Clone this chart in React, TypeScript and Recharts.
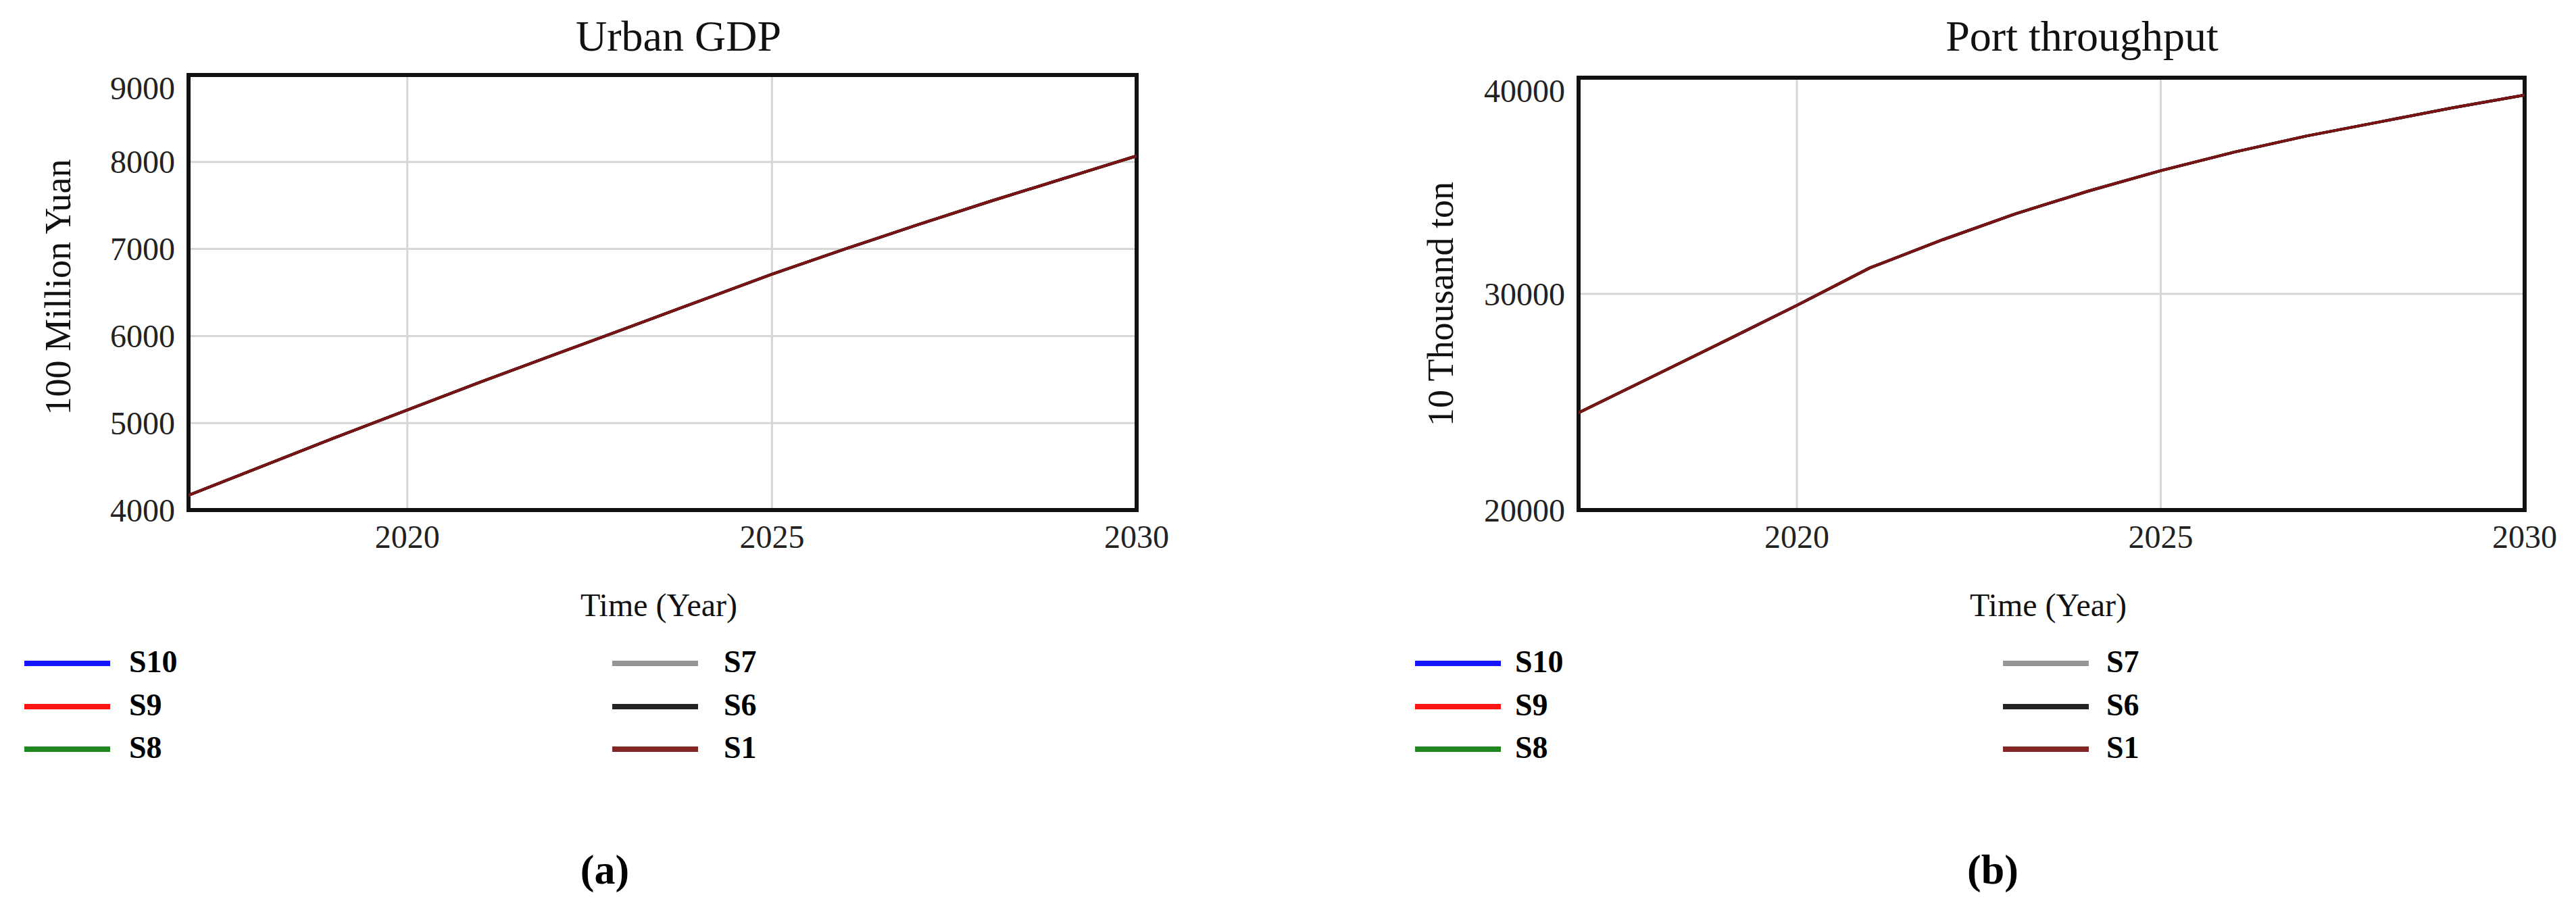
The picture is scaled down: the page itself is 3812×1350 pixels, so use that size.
import React from 'react';
import {
  LineChart,
  Line,
  XAxis,
  YAxis,
  CartesianGrid,
  ReferenceArea,
} from 'recharts';

// Simulation output, 2017-2030. All scenarios coincide, S1 is drawn on top.
const years = [2017, 2018, 2019, 2020, 2021, 2022, 2023, 2024, 2025, 2026, 2027, 2028, 2029, 2030];
const gdpValues = [4170, 4500, 4830, 5150, 5470, 5780, 6090, 6400, 6710, 7000, 7280, 7550, 7810, 8070];
const portValues = [24500, 26150, 27800, 29470, 31200, 32500, 33700, 34750, 35700, 36550, 37300, 37950, 38600, 39200];

const yearTicks = [2020, 2025, 2030];
const gdpTicks = [4000, 5000, 6000, 7000, 8000, 9000];
const portTicks = [20000, 30000, 40000];

// legend reads column by column: S10 S9 S8 | S7 S6 S1
const scenarios = ['S10', 'S9', 'S8', 'S7', 'S6', 'S1'];
// draw order, last one ends up on top
const drawOrder = ['S10', 'S9', 'S8', 'S7', 'S6', 'S1'];

const SERIES_COLORS: Record<string, string> = {
  S10: '#0000ff',
  S9: '#ff0000',
  S8: '#0b7d0b',
  S7: '#8c8c8c',
  S6: '#111111',
  S1: '#7a1414',
};

const SERIF = '"Liberation Serif", "Times New Roman", serif';
const GRID = '#d6d6d6';

const gdpData = years.map((year, i) => ({ year, value: gdpValues[i] }));
const portData = years.map((year, i) => ({ year, value: portValues[i] }));

const YTick = ({ x, y, payload, top }: any) => {
  const shift = payload.value === top ? 19 : 0;
  return (
    <text
      x={x}
      y={y + shift}
      textAnchor="end"
      dominantBaseline="central"
      fontFamily={SERIF}
      fontSize={48}
      fill="#222"
    >
      {payload.value}
    </text>
  );
};

interface PanelProps {
  left: number;
  width: number;
  data: { year: number; value: number }[];
  yTicks: number[];
  yAxisWidth: number;
  marginRight: number;
  marginTop: number;
  title: string;
  titleX: number;
  yLabel: string;
  yLabelX: number;
  yLabelY: number;
  timeX: number;
  lineX: number[];
  textX: number[];
  caption: string;
  captionX: number;
}

function Panel(p: PanelProps) {
  const yMin = p.yTicks[0];
  const yMax = p.yTicks[p.yTicks.length - 1];
  const rows = [982, 1046, 1109];
  return (
    <>
      <div style={{ position: 'absolute', left: p.left, top: 0 }}>
        <LineChart
          width={p.width}
          height={900}
          data={p.data}
          margin={{ top: p.marginTop, right: p.marginRight, left: 0, bottom: 85 }}
        >
          <CartesianGrid stroke={GRID} strokeWidth={3} />
          <XAxis
            dataKey="year"
            type="number"
            domain={[2017, 2030]}
            ticks={yearTicks}
            allowDataOverflow
            axisLine={false}
            tickLine={false}
            tickSize={0}
            tickMargin={22}
            height={60}
            tick={{ fontFamily: SERIF, fontSize: 48, fill: '#222' }}
          />
          <YAxis
            type="number"
            domain={[yMin, yMax]}
            ticks={p.yTicks}
            allowDataOverflow
            axisLine={false}
            tickLine={false}
            tickSize={0}
            tickMargin={20}
            width={p.yAxisWidth}
            tick={<YTick top={yMax} />}
          />
          {drawOrder.map((s) => (
            <Line
              key={s}
              dataKey="value"
              name={s}
              type="linear"
              stroke={SERIES_COLORS[s]}
              strokeWidth={4}
              dot={false}
              isAnimationActive={false}
            />
          ))}
          <ReferenceArea
            x1={2017}
            x2={2030}
            y1={yMin}
            y2={yMax}
            fill="none"
            fillOpacity={0}
            stroke="#111"
            strokeWidth={6}
          />
        </LineChart>
      </div>

      <div
        style={{
          position: 'absolute',
          left: p.titleX,
          top: 54,
          transform: 'translate(-50%, -50%)',
          fontFamily: SERIF,
          fontSize: 64,
          whiteSpace: 'nowrap',
          color: '#111',
        }}
      >
        {p.title}
      </div>

      <div
        style={{
          position: 'absolute',
          left: p.yLabelX,
          top: p.yLabelY,
          transform: 'translate(-50%, -50%) rotate(-90deg)',
          fontFamily: SERIF,
          fontSize: 54,
          whiteSpace: 'nowrap',
          color: '#111',
        }}
      >
        {p.yLabel}
      </div>

      <div
        style={{
          position: 'absolute',
          left: p.timeX,
          top: 895,
          transform: 'translate(-50%, -50%)',
          fontFamily: SERIF,
          fontSize: 48,
          whiteSpace: 'nowrap',
          color: '#111',
        }}
      >
        Time (Year)
      </div>

      {scenarios.map((s, i) => {
        const col = Math.floor(i / 3);
        const rowY = rows[i % 3];
        return (
          <React.Fragment key={s}>
            <div
              style={{
                position: 'absolute',
                left: p.lineX[col],
                top: rowY - 4,
                width: 127,
                height: 8,
                background: SERIES_COLORS[s],
                opacity: 0.92,
              }}
            />
            <div
              style={{
                position: 'absolute',
                left: p.textX[col],
                top: rowY - 2,
                transform: 'translateY(-50%)',
                fontFamily: SERIF,
                fontWeight: 'bold',
                fontSize: 46,
                lineHeight: 1,
                color: '#000',
              }}
            >
              {s}
            </div>
          </React.Fragment>
        );
      })}

      <div
        style={{
          position: 'absolute',
          left: p.captionX,
          top: 1287,
          transform: 'translate(-50%, -50%)',
          fontFamily: SERIF,
          fontWeight: 'bold',
          fontSize: 62,
          color: '#000',
        }}
      >
        {p.caption}
      </div>
    </>
  );
}

export default function App() {
  return (
    <div
      style={{
        position: 'absolute',
        left: 0,
        top: 0,
        width: 3812,
        height: 1350,
        background: '#fff',
        overflow: 'hidden',
      }}
    >
      <Panel
        left={0}
        width={1800}
        data={gdpData}
        yTicks={gdpTicks}
        yAxisWidth={279}
        marginRight={118}
        marginTop={111}
        title="Urban GDP"
        titleX={1004}
        yLabel="100 Million Yuan"
        yLabelX={86}
        yLabelY={425}
        timeX={975}
        lineX={[36, 906]}
        textX={[191, 1071]}
        caption="(a)"
        captionX={895}
      />
      <Panel
        left={1900}
        width={1900}
        data={portData}
        yTicks={portTicks}
        yAxisWidth={436}
        marginRight={64}
        marginTop={115}
        title="Port throughput"
        titleX={3081}
        yLabel="10 Thousand ton"
        yLabelX={2132}
        yLabelY={450}
        timeX={3031}
        lineX={[2094, 2964]}
        textX={[2242, 3117]}
        caption="(b)"
        captionX={2949}
      />
    </div>
  );
}
